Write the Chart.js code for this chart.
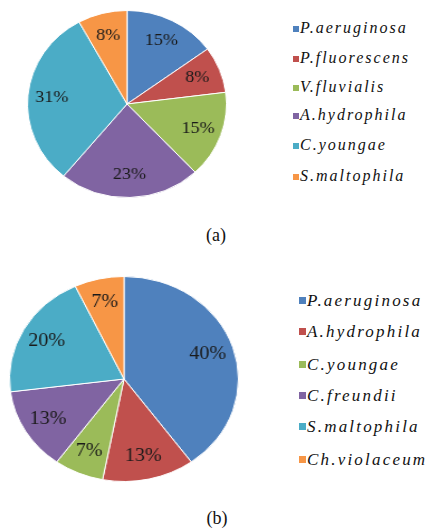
<!DOCTYPE html>
<html>
<head>
<meta charset="utf-8">
<script src="https://cdn.jsdelivr.net/npm/chart.js@4.4.0/dist/chart.umd.min.js"></script>
<style>
  body { margin: 0; background: #fff; }
  #wrap { position: relative; width: 428px; height: 531px; overflow: hidden; }
  canvas { position: absolute; }
  .legend { position: absolute; font-family: "Liberation Serif", "Times New Roman", serif; font-style: italic; color: #111; }
  .legend div { position: absolute; white-space: nowrap; }
  .legend span.box { display: inline-block; vertical-align: middle; margin-right: 1px; position: relative; top: -1px; }
  .cap { position: absolute; font-family: "Liberation Serif", "Times New Roman", serif; font-size: 18px; color: #111; transform: translate(-50%, -50%); }
</style>
</head>
<body>
<div id="wrap">
  <canvas id="pieA" width="188" height="188" style="left:27px;top:10px;width:200px;height:188px"></canvas>
  <canvas id="pieB" width="206" height="206" style="left:9px;top:276px;width:230px;height:206px"></canvas>
  <div class="legend" id="legA"></div>
  <div class="legend" id="legB"></div>
  <div class="cap" style="left:216px;top:235px">(a)</div>
  <div class="cap" style="left:217px;top:518px">(b)</div>
</div>
<script>
const speciesA = ["P.aeruginosa", "P.fluorescens", "V.fluvialis", "A.hydrophila", "C.youngae", "S.maltophila"];
const percentA = [15, 8, 15, 23, 31, 8];

const speciesB = ["P.aeruginosa", "A.hydrophila", "C.youngae", "C.freundii", "S.maltophila", "Ch.violaceum"];
const percentB = [40, 13, 7, 13, 20, 7];

const colors = ["#4F81BD", "#C0504D", "#9BBB59", "#8064A2", "#4BACC6", "#F79646"];

// draws the % text inside each slice
const sliceLabels = {
  id: "sliceLabels",
  afterDatasetsDraw(chart, args, opts) {
    const ctx = chart.ctx;
    const meta = chart.getDatasetMeta(0);
    ctx.save();
    ctx.font = opts.font;
    ctx.fillStyle = "#1a1a1a";
    ctx.textAlign = "center";
    ctx.textBaseline = "middle";
    meta.data.forEach((arc, i) => {
      const mid = (arc.startAngle + arc.endAngle) / 2;
      const r = arc.outerRadius * opts.ratio;
      ctx.fillText(chart.data.datasets[0].data[i] + "%", arc.x + Math.cos(mid) * r, arc.y + Math.sin(mid) * r);
    });
    ctx.restore();
  }
};

function makePie(id, labels, values, font, ratio) {
  return new Chart(document.getElementById(id), {
    type: "pie",
    data: {
      labels: labels,
      datasets: [{
        data: values,
        backgroundColor: colors,
        borderColor: "#ffffff",
        borderWidth: 1
      }]
    },
    options: {
      responsive: false,
      animation: false,
      layout: { padding: 0 },
      plugins: {
        legend: { display: false },
        tooltip: { enabled: false },
        sliceLabels: { font: font, ratio: ratio }
      }
    },
    plugins: [sliceLabels]
  });
}

function makeLegend(id, labels, rows, left, fontSize, box, spacing) {
  const el = document.getElementById(id);
  el.style.left = left + "px";
  el.style.top = "0px";
  el.style.fontSize = fontSize + "px";
  el.style.letterSpacing = spacing + "px";
  labels.forEach((name, i) => {
    const row = document.createElement("div");
    row.style.top = (rows[i] - fontSize * 0.6) + "px";
    row.innerHTML = '<span class="box" style="width:' + box + 'px;height:' + box +
      'px;background:' + colors[i] + '"></span>' + name;
    el.appendChild(row);
  });
}

const serif = '"Liberation Serif", "Times New Roman", serif';

makePie("pieA", speciesA, percentA, "17px " + serif, 0.76);
makePie("pieB", speciesB, percentB, "18px " + serif, 0.77);

makeLegend("legA", speciesA, [29, 59, 88, 116, 146, 177], 293, 16, 6, 2);
makeLegend("legB", speciesB, [301, 332, 365, 396, 427, 460], 299, 17, 7, 2.2);
</script>
</body>
</html>
